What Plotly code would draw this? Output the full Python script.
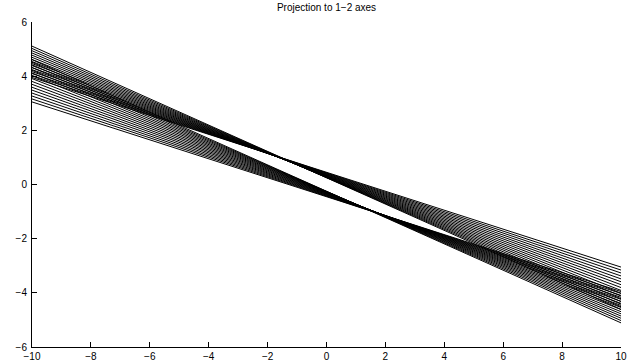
import plotly.graph_objects as go

# Line endpoints: value at x=-10 (left) and x=10 (right)
x_ends = [-10, 10]
upper_left = [3.951, 4.023, 4.095, 4.168, 4.241, 4.315, 4.389, 4.465,
              4.540, 4.617, 4.696, 4.775, 4.856, 4.939, 5.023, 5.109]
upper_right = [-3.049, -3.159, -3.267, -3.376, -3.485, -3.591, -3.699, -3.805,
               -3.910, -4.015, -4.118, -4.219, -4.320, -4.419, -4.515, -4.611]
lower_left = [3.049, 3.159, 3.267, 3.376, 3.485, 3.591, 3.699, 3.805,
              3.910, 4.015, 4.118, 4.219, 4.320, 4.419, 4.515, 4.611]
lower_right = [-3.951, -4.023, -4.095, -4.168, -4.241, -4.315, -4.389, -4.465,
               -4.540, -4.617, -4.696, -4.775, -4.856, -4.939, -5.023, -5.109]

x_ticks = [-10, -8, -6, -4, -2, 0, 2, 4, 6, 8, 10]
y_ticks = [-6, -4, -2, 0, 2, 4, 6]

fig = go.Figure()
for yl, yr in zip(upper_left + lower_left, upper_right + lower_right):
    fig.add_trace(go.Scatter(x=x_ends, y=[yl, yr], mode="lines",
                             line=dict(color="black", width=1),
                             showlegend=False, hoverinfo="skip"))

axis_common = dict(showgrid=False, zeroline=False, showline=True,
                   linecolor="black", linewidth=1, ticks="inside",
                   ticklen=5, tickcolor="black", mirror=False, automargin=False,
                   tickfont=dict(family="Liberation Sans, Arial", size=10, color="black"))

fig.update_layout(
    width=632, height=362,
    margin=dict(l=32, r=11, t=22, b=15),
    paper_bgcolor="white", plot_bgcolor="white",
    title=dict(text="Projection to 1\u22122 axes", x=0.5, xref="paper",
               y=0.978, yref="container", yanchor="middle", xanchor="center",
               font=dict(family="Liberation Sans, Arial", size=10, color="black")),
    xaxis=dict(range=[-10, 10], tickvals=x_ticks, ticklabelstandoff=0, **axis_common),
    yaxis=dict(range=[-6, 6], tickvals=y_ticks, ticklabelstandoff=2, **axis_common),
)

fig.write_html("out.html", config={"displayModeBar": False},
               post_script="document.body.style.margin='0px';document.body.style.overflow='hidden';")
